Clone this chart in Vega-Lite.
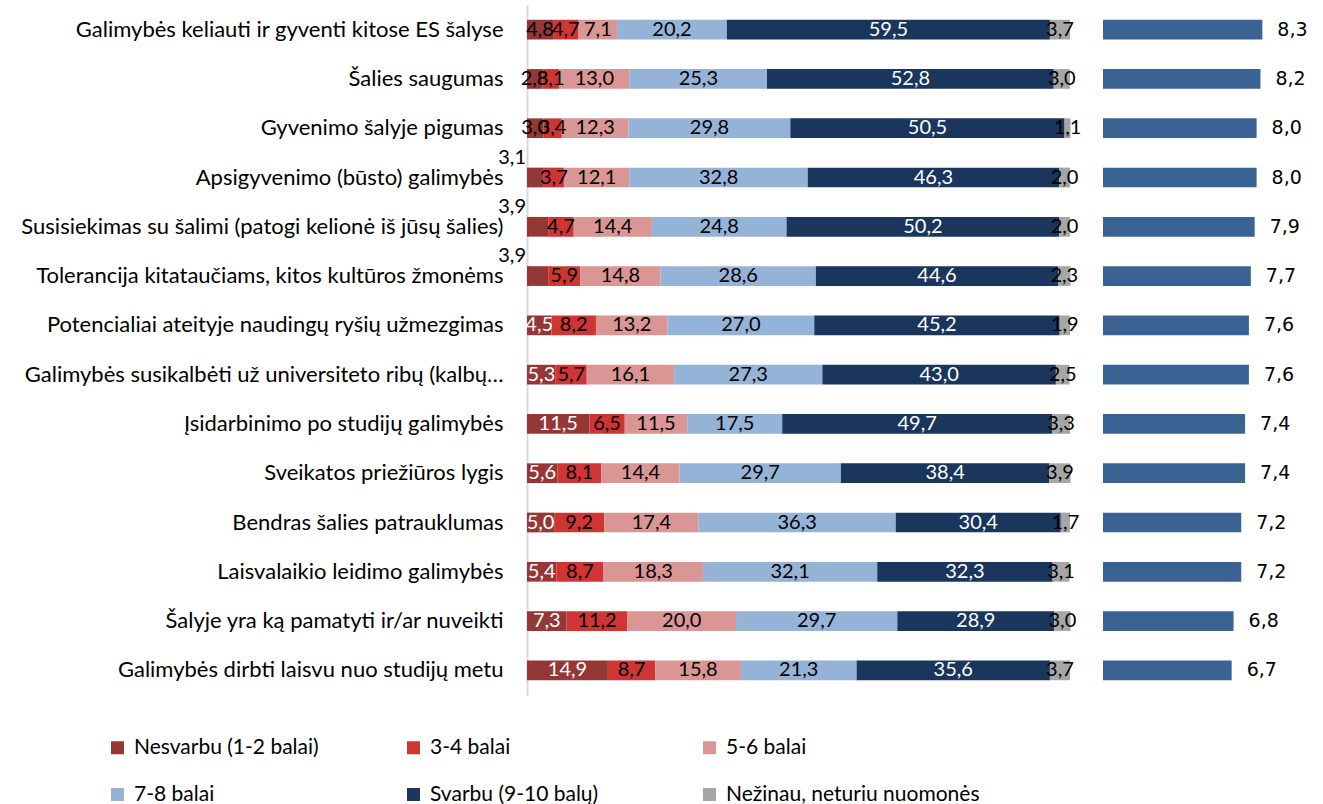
{
  "$schema": "https://vega.github.io/schema/vega-lite/v6.json",
  "padding": {"left": 20, "top": 5, "right": 0, "bottom": 0},
  "background": "white",
  "config": {
    "view": {"stroke": null},
    "font": "Lato",
    "concat": {"spacing": 21},
    "locale": {"number": {"decimal": ",", "thousands": " ", "grouping": [3], "currency": ["", " €"]}}
  },
  "datasets": {
    "dist": [
      {"item": "Galimybės keliauti ir gyventi kitose ES šalyse", "cat": "Nesvarbu (1-2 balai)", "v": 4.8},
      {"item": "Galimybės keliauti ir gyventi kitose ES šalyse", "cat": "3-4 balai", "v": 4.7},
      {"item": "Galimybės keliauti ir gyventi kitose ES šalyse", "cat": "5-6 balai", "v": 7.1},
      {"item": "Galimybės keliauti ir gyventi kitose ES šalyse", "cat": "7-8 balai", "v": 20.2},
      {"item": "Galimybės keliauti ir gyventi kitose ES šalyse", "cat": "Svarbu (9-10 balų)", "v": 59.5},
      {"item": "Galimybės keliauti ir gyventi kitose ES šalyse", "cat": "Nežinau, neturiu nuomonės", "v": 3.7},
      {"item": "Šalies saugumas", "cat": "Nesvarbu (1-2 balai)", "v": 2.8},
      {"item": "Šalies saugumas", "cat": "3-4 balai", "v": 3.1},
      {"item": "Šalies saugumas", "cat": "5-6 balai", "v": 13.0},
      {"item": "Šalies saugumas", "cat": "7-8 balai", "v": 25.3},
      {"item": "Šalies saugumas", "cat": "Svarbu (9-10 balų)", "v": 52.8},
      {"item": "Šalies saugumas", "cat": "Nežinau, neturiu nuomonės", "v": 3.0},
      {"item": "Gyvenimo šalyje pigumas", "cat": "Nesvarbu (1-2 balai)", "v": 3.0},
      {"item": "Gyvenimo šalyje pigumas", "cat": "3-4 balai", "v": 3.4},
      {"item": "Gyvenimo šalyje pigumas", "cat": "5-6 balai", "v": 12.3},
      {"item": "Gyvenimo šalyje pigumas", "cat": "7-8 balai", "v": 29.8},
      {"item": "Gyvenimo šalyje pigumas", "cat": "Svarbu (9-10 balų)", "v": 50.5},
      {"item": "Gyvenimo šalyje pigumas", "cat": "Nežinau, neturiu nuomonės", "v": 1.1},
      {"item": "Apsigyvenimo (būsto) galimybės", "cat": "Nesvarbu (1-2 balai)", "v": 3.1},
      {"item": "Apsigyvenimo (būsto) galimybės", "cat": "3-4 balai", "v": 3.7},
      {"item": "Apsigyvenimo (būsto) galimybės", "cat": "5-6 balai", "v": 12.1},
      {"item": "Apsigyvenimo (būsto) galimybės", "cat": "7-8 balai", "v": 32.8},
      {"item": "Apsigyvenimo (būsto) galimybės", "cat": "Svarbu (9-10 balų)", "v": 46.3},
      {"item": "Apsigyvenimo (būsto) galimybės", "cat": "Nežinau, neturiu nuomonės", "v": 2.0},
      {"item": "Susisiekimas su šalimi (patogi kelionė iš jūsų šalies)", "cat": "Nesvarbu (1-2 balai)", "v": 3.9},
      {"item": "Susisiekimas su šalimi (patogi kelionė iš jūsų šalies)", "cat": "3-4 balai", "v": 4.7},
      {"item": "Susisiekimas su šalimi (patogi kelionė iš jūsų šalies)", "cat": "5-6 balai", "v": 14.4},
      {"item": "Susisiekimas su šalimi (patogi kelionė iš jūsų šalies)", "cat": "7-8 balai", "v": 24.8},
      {"item": "Susisiekimas su šalimi (patogi kelionė iš jūsų šalies)", "cat": "Svarbu (9-10 balų)", "v": 50.2},
      {"item": "Susisiekimas su šalimi (patogi kelionė iš jūsų šalies)", "cat": "Nežinau, neturiu nuomonės", "v": 2.0},
      {"item": "Tolerancija kitataučiams, kitos kultūros žmonėms", "cat": "Nesvarbu (1-2 balai)", "v": 3.9},
      {"item": "Tolerancija kitataučiams, kitos kultūros žmonėms", "cat": "3-4 balai", "v": 5.9},
      {"item": "Tolerancija kitataučiams, kitos kultūros žmonėms", "cat": "5-6 balai", "v": 14.8},
      {"item": "Tolerancija kitataučiams, kitos kultūros žmonėms", "cat": "7-8 balai", "v": 28.6},
      {"item": "Tolerancija kitataučiams, kitos kultūros žmonėms", "cat": "Svarbu (9-10 balų)", "v": 44.6},
      {"item": "Tolerancija kitataučiams, kitos kultūros žmonėms", "cat": "Nežinau, neturiu nuomonės", "v": 2.3},
      {"item": "Potencialiai ateityje naudingų ryšių užmezgimas", "cat": "Nesvarbu (1-2 balai)", "v": 4.5},
      {"item": "Potencialiai ateityje naudingų ryšių užmezgimas", "cat": "3-4 balai", "v": 8.2},
      {"item": "Potencialiai ateityje naudingų ryšių užmezgimas", "cat": "5-6 balai", "v": 13.2},
      {"item": "Potencialiai ateityje naudingų ryšių užmezgimas", "cat": "7-8 balai", "v": 27.0},
      {"item": "Potencialiai ateityje naudingų ryšių užmezgimas", "cat": "Svarbu (9-10 balų)", "v": 45.2},
      {"item": "Potencialiai ateityje naudingų ryšių užmezgimas", "cat": "Nežinau, neturiu nuomonės", "v": 1.9},
      {"item": "Galimybės susikalbėti už universiteto ribų (kalbų…", "cat": "Nesvarbu (1-2 balai)", "v": 5.3},
      {"item": "Galimybės susikalbėti už universiteto ribų (kalbų…", "cat": "3-4 balai", "v": 5.7},
      {"item": "Galimybės susikalbėti už universiteto ribų (kalbų…", "cat": "5-6 balai", "v": 16.1},
      {"item": "Galimybės susikalbėti už universiteto ribų (kalbų…", "cat": "7-8 balai", "v": 27.3},
      {"item": "Galimybės susikalbėti už universiteto ribų (kalbų…", "cat": "Svarbu (9-10 balų)", "v": 43.0},
      {"item": "Galimybės susikalbėti už universiteto ribų (kalbų…", "cat": "Nežinau, neturiu nuomonės", "v": 2.5},
      {"item": "Įsidarbinimo po studijų galimybės", "cat": "Nesvarbu (1-2 balai)", "v": 11.5},
      {"item": "Įsidarbinimo po studijų galimybės", "cat": "3-4 balai", "v": 6.5},
      {"item": "Įsidarbinimo po studijų galimybės", "cat": "5-6 balai", "v": 11.5},
      {"item": "Įsidarbinimo po studijų galimybės", "cat": "7-8 balai", "v": 17.5},
      {"item": "Įsidarbinimo po studijų galimybės", "cat": "Svarbu (9-10 balų)", "v": 49.7},
      {"item": "Įsidarbinimo po studijų galimybės", "cat": "Nežinau, neturiu nuomonės", "v": 3.3},
      {"item": "Sveikatos priežiūros lygis", "cat": "Nesvarbu (1-2 balai)", "v": 5.6},
      {"item": "Sveikatos priežiūros lygis", "cat": "3-4 balai", "v": 8.1},
      {"item": "Sveikatos priežiūros lygis", "cat": "5-6 balai", "v": 14.4},
      {"item": "Sveikatos priežiūros lygis", "cat": "7-8 balai", "v": 29.7},
      {"item": "Sveikatos priežiūros lygis", "cat": "Svarbu (9-10 balų)", "v": 38.4},
      {"item": "Sveikatos priežiūros lygis", "cat": "Nežinau, neturiu nuomonės", "v": 3.9},
      {"item": "Bendras šalies patrauklumas", "cat": "Nesvarbu (1-2 balai)", "v": 5.0},
      {"item": "Bendras šalies patrauklumas", "cat": "3-4 balai", "v": 9.2},
      {"item": "Bendras šalies patrauklumas", "cat": "5-6 balai", "v": 17.4},
      {"item": "Bendras šalies patrauklumas", "cat": "7-8 balai", "v": 36.3},
      {"item": "Bendras šalies patrauklumas", "cat": "Svarbu (9-10 balų)", "v": 30.4},
      {"item": "Bendras šalies patrauklumas", "cat": "Nežinau, neturiu nuomonės", "v": 1.7},
      {"item": "Laisvalaikio leidimo galimybės", "cat": "Nesvarbu (1-2 balai)", "v": 5.4},
      {"item": "Laisvalaikio leidimo galimybės", "cat": "3-4 balai", "v": 8.7},
      {"item": "Laisvalaikio leidimo galimybės", "cat": "5-6 balai", "v": 18.3},
      {"item": "Laisvalaikio leidimo galimybės", "cat": "7-8 balai", "v": 32.1},
      {"item": "Laisvalaikio leidimo galimybės", "cat": "Svarbu (9-10 balų)", "v": 32.3},
      {"item": "Laisvalaikio leidimo galimybės", "cat": "Nežinau, neturiu nuomonės", "v": 3.1},
      {"item": "Šalyje yra ką pamatyti ir/ar nuveikti", "cat": "Nesvarbu (1-2 balai)", "v": 7.3},
      {"item": "Šalyje yra ką pamatyti ir/ar nuveikti", "cat": "3-4 balai", "v": 11.2},
      {"item": "Šalyje yra ką pamatyti ir/ar nuveikti", "cat": "5-6 balai", "v": 20.0},
      {"item": "Šalyje yra ką pamatyti ir/ar nuveikti", "cat": "7-8 balai", "v": 29.7},
      {"item": "Šalyje yra ką pamatyti ir/ar nuveikti", "cat": "Svarbu (9-10 balų)", "v": 28.9},
      {"item": "Šalyje yra ką pamatyti ir/ar nuveikti", "cat": "Nežinau, neturiu nuomonės", "v": 3.0},
      {"item": "Galimybės dirbti laisvu nuo studijų metu", "cat": "Nesvarbu (1-2 balai)", "v": 14.9},
      {"item": "Galimybės dirbti laisvu nuo studijų metu", "cat": "3-4 balai", "v": 8.7},
      {"item": "Galimybės dirbti laisvu nuo studijų metu", "cat": "5-6 balai", "v": 15.8},
      {"item": "Galimybės dirbti laisvu nuo studijų metu", "cat": "7-8 balai", "v": 21.3},
      {"item": "Galimybės dirbti laisvu nuo studijų metu", "cat": "Svarbu (9-10 balų)", "v": 35.6},
      {"item": "Galimybės dirbti laisvu nuo studijų metu", "cat": "Nežinau, neturiu nuomonės", "v": 3.7}
    ],
    "avg": [
      {"item": "Galimybės keliauti ir gyventi kitose ES šalyse", "avg": 8.3},
      {"item": "Šalies saugumas", "avg": 8.2},
      {"item": "Gyvenimo šalyje pigumas", "avg": 8.0},
      {"item": "Apsigyvenimo (būsto) galimybės", "avg": 8.0},
      {"item": "Susisiekimas su šalimi (patogi kelionė iš jūsų šalies)", "avg": 7.9},
      {"item": "Tolerancija kitataučiams, kitos kultūros žmonėms", "avg": 7.7},
      {"item": "Potencialiai ateityje naudingų ryšių užmezgimas", "avg": 7.6},
      {"item": "Galimybės susikalbėti už universiteto ribų (kalbų…", "avg": 7.6},
      {"item": "Įsidarbinimo po studijų galimybės", "avg": 7.4},
      {"item": "Sveikatos priežiūros lygis", "avg": 7.4},
      {"item": "Bendras šalies patrauklumas", "avg": 7.2},
      {"item": "Laisvalaikio leidimo galimybės", "avg": 7.2},
      {"item": "Šalyje yra ką pamatyti ir/ar nuveikti", "avg": 6.8},
      {"item": "Galimybės dirbti laisvu nuo studijų metu", "avg": 6.7}
    ]
  },
  "hconcat": [
    {
      "width": 543,
      "height": 690,
      "data": {"name": "dist"},
      "transform": [
        {"calculate": "datum.cat == 'Nesvarbu (1-2 balai)' ? 0 : datum.cat == '3-4 balai' ? 1 : datum.cat == '5-6 balai' ? 2 : datum.cat == '7-8 balai' ? 3 : datum.cat == 'Svarbu (9-10 balų)' ? 4 : 5", "as": "k"},
        {"stack": "v", "groupby": ["item"], "sort": [{"field": "k", "order": "ascending"}], "as": ["x0", "x1"]},
        {"calculate": "(datum.x0 + datum.x1) / 2", "as": "xm"},
        {"calculate": "datum.k == 0 && (datum.item == 'Apsigyvenimo (būsto) galimybės' || datum.item == 'Susisiekimas su šalimi (patogi kelionė iš jūsų šalies)' || datum.item == 'Tolerancija kitataučiams, kitos kultūros žmonėms')", "as": "lifted"},
        {"calculate": "(datum.k == 0 && !(datum.item == 'Galimybės keliauti ir gyventi kitose ES šalyse' || datum.item == 'Šalies saugumas' || datum.item == 'Gyvenimo šalyje pigumas')) || datum.k == 4", "as": "whiteLabel"}
      ],
      "encoding": {
        "y": {
          "field": "item",
          "type": "nominal",
          "sort": null,
          "scale": {"paddingInner": 0.6, "paddingOuter": 0.3},
          "axis": {
            "title": null,
            "ticks": false,
            "labelFontSize": 22,
            "labelPadding": 24,
            "labelColor": "#000000",
            "labelLimit": 700,
            "domainColor": "#d9d9d9",
            "domainWidth": 2
          }
        }
      },
      "layer": [
        {
          "mark": {"type": "bar"},
          "encoding": {
            "x": {"field": "x0", "type": "quantitative", "scale": {"domain": [0, 100]}, "axis": null},
            "x2": {"field": "x1"},
            "color": {
              "field": "cat",
              "type": "nominal",
              "sort": ["Nesvarbu (1-2 balai)", "3-4 balai", "5-6 balai", "7-8 balai", "Svarbu (9-10 balų)", "Nežinau, neturiu nuomonės"],
              "scale": {
                "domain": ["Nesvarbu (1-2 balai)", "3-4 balai", "5-6 balai", "7-8 balai", "Svarbu (9-10 balų)", "Nežinau, neturiu nuomonės"],
                "range": ["#953735", "#CF3535", "#DA9694", "#95B3D7", "#1A365D", "#A6A6A6"]
              },
              "legend": {
                "title": null,
                "orient": "none",
                "legendX": -420,
                "legendY": 732,
                "columns": 3,
                "direction": "horizontal",
                "gridAlign": "all",
                "symbolType": "square",
                "symbolSize": 169,
                "symbolStrokeWidth": 0,
                "labelOffset": 6,
                "labelFontSize": 21,
                "labelColor": "#000000",
                "labelLimit": 400,
                "columnPadding": 15,
                "rowPadding": 25
              }
            }
          }
        },
        {
          "transform": [{"filter": "!datum.lifted"}],
          "mark": {"type": "text", "fontSize": 20, "baseline": "middle", "align": "center"},
          "encoding": {
            "x": {"field": "xm", "type": "quantitative"},
            "text": {"field": "v", "type": "quantitative", "format": ".1f"},
            "color": {
              "condition": {"test": "datum.whiteLabel", "value": "#ffffff"},
              "value": "#000000"
            }
          }
        },
        {
          "transform": [{"filter": "datum.lifted"}],
          "mark": {"type": "text", "fontSize": 20, "baseline": "middle", "align": "right", "dx": -1, "dy": -20, "color": "#000000"},
          "encoding": {
            "x": {"field": "x0", "type": "quantitative"},
            "text": {"field": "v", "type": "quantitative", "format": ".1f"}
          }
        }
      ]
    },
    {
      "width": 192,
      "height": 690,
      "data": {"name": "avg"},
      "encoding": {
        "y": {
          "field": "item",
          "type": "nominal",
          "sort": null,
          "scale": {"paddingInner": 0.6, "paddingOuter": 0.3},
          "axis": null
        }
      },
      "layer": [
        {
          "mark": {"type": "bar", "color": "#3A6393"},
          "encoding": {
            "x": {"field": "avg", "type": "quantitative", "scale": {"domain": [0, 10]}, "axis": null}
          }
        },
        {
          "mark": {"type": "text", "align": "left", "baseline": "middle", "dx": 15, "fontSize": 19, "font": "DejaVu Sans", "color": "#000000"},
          "encoding": {
            "x": {"field": "avg", "type": "quantitative"},
            "text": {"field": "avg", "type": "quantitative", "format": ".1f"}
          }
        }
      ]
    }
  ]
}
